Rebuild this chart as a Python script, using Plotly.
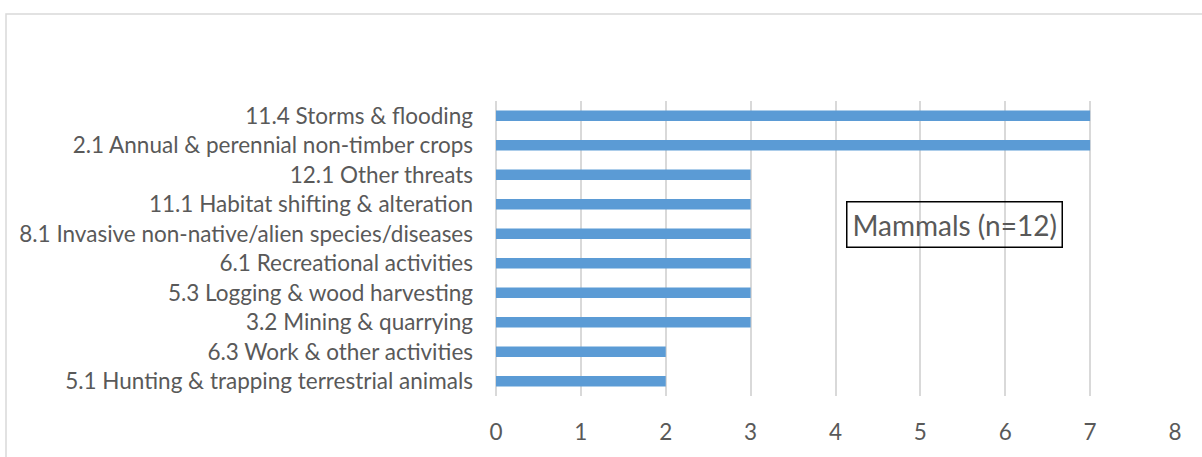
import plotly.graph_objects as go

categories = [
    "5.1 Hunting & trapping terrestrial animals",
    "6.3 Work & other activities",
    "3.2 Mining & quarrying",
    "5.3 Logging & wood harvesting",
    "6.1 Recreational activities",
    "8.1 Invasive non-native/alien species/diseases",
    "11.1 Habitat shifting & alteration",
    "12.1 Other threats",
    "2.1 Annual & perennial non-timber crops",
    "11.4 Storms & flooding",
]
values = [2, 2, 3, 3, 3, 3, 3, 3, 7, 7]
x_ticks = [0, 1, 2, 3, 4, 5, 6, 7, 8]
label_text = "Mammals (n=12)"

W, H = 1202, 457
L, R, T, B = 496, 27, 101, 54
pw, ph = W - L - R, H - T - B

def px_x(p):
    return (p - L) / pw

def px_y(p):
    return (H - B - p) / ph

FONT = "Lato"
TXT = "#595959"
FS = 22.5

fig = go.Figure(go.Bar(
    y=categories, x=values, orientation="h",
    marker=dict(color="#5B9BD5", line=dict(width=0)),
    width=0.36,
))

fig.update_layout(
    width=W, height=H,
    margin=dict(l=L, r=R, t=T, b=B),
    paper_bgcolor="white", plot_bgcolor="white",
    showlegend=False,
    font=dict(family=FONT, color=TXT, size=FS),
    xaxis=dict(range=[0, 8], tickvals=x_ticks, showgrid=True, gridcolor="#D9D9D9",
               gridwidth=1.5, zeroline=True, zerolinecolor="#D9D9D9", zerolinewidth=1.5,
               showline=False, ticks="", ticklabelstandoff=20,
               tickfont=dict(family=FONT, size=FS, color=TXT)),
    yaxis=dict(range=[-0.5, 9.5], showgrid=False, zeroline=False, showline=False,
               ticks="", ticklabelstandoff=22,
               tickfont=dict(family=FONT, size=FS, color=TXT)),
    shapes=[dict(type="rect", xref="paper", yref="paper",
                 x0=px_x(6), x1=px_x(1215), y0=px_y(470), y1=px_y(12),
                 line=dict(color="#D9D9D9", width=1.5), fillcolor="rgba(0,0,0,0)",
                 layer="below")],
    annotations=[dict(text=label_text, x=5.40, xref="x", y=px_y(227.5), yref="paper",
                      showarrow=False, font=dict(family=FONT, size=28, color=TXT),
                      bordercolor="black", borderwidth=1.5, borderpad=5,
                      bgcolor="rgba(0,0,0,0)", xanchor="center", yanchor="middle")],
)

fig.write_html("out.html", config={"displayModeBar": False},
               post_script="document.body.style.margin='0px';document.body.style.overflow='hidden';")
